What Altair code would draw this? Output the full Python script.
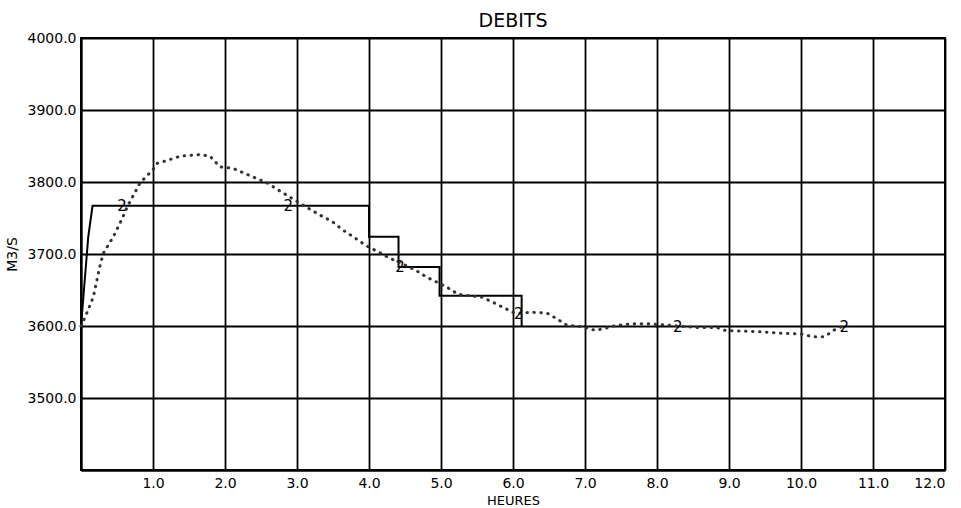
import altair as alt
import pandas as pd

# Solid step series (vertices)
step_x = [0.0, 0.10, 0.16, 4.0, 4.0, 4.41, 4.41, 4.98, 4.98, 6.12, 6.12]
step_y = [3600, 3723, 3767, 3767, 3724, 3724, 3682, 3682, 3642, 3642, 3600]

# Dotted series (curve 2)
dot_x = [0.0, 0.06, 0.17, 0.26, 0.31, 0.45, 0.58, 0.64, 0.82, 1.0, 1.06, 1.2, 1.38,
         1.65, 1.79, 1.93, 2.11, 2.39, 2.58, 2.9, 3.08, 3.15, 3.32, 3.49, 3.64, 3.81,
         3.97, 4.13, 4.29, 4.43, 4.64, 4.80, 4.94, 5.08, 5.24, 5.57, 5.72, 5.86, 6.0,
         6.08, 6.28, 6.47, 6.61, 6.75, 6.97, 7.14, 7.25, 7.44, 7.67, 7.9, 8.29, 8.55,
         8.83, 8.94, 9.15, 9.43, 9.71, 9.99, 10.17, 10.31, 10.40, 10.5, 10.6]
dot_y = [3600, 3613, 3640, 3682, 3701, 3724, 3751, 3765, 3799, 3817, 3826, 3830, 3836,
         3838, 3836, 3821, 3819, 3807, 3799, 3779, 3768, 3764, 3754, 3745, 3733, 3722,
         3711, 3703, 3694, 3688, 3678, 3668, 3661, 3654, 3644, 3640, 3633, 3626, 3619,
         3618, 3619, 3618, 3610, 3601, 3599, 3594, 3596, 3601, 3603, 3603, 3600, 3598,
         3598, 3594, 3593, 3592, 3590, 3589, 3585, 3585, 3590, 3597, 3600]

# Curve markers "2"
mark_x = [0.57, 2.88, 4.43, 6.08, 8.29, 10.6]
mark_y = [3767, 3767, 3682, 3617, 3599, 3599]
mark_txt = ["2", "2", "2", "2", "2", "2"]

x_ticks = list(range(0, 13))
y_ticks = [3400, 3500, 3600, 3700, 3800, 3900, 4000]

FONT = "DejaVu Sans"

step_df = pd.DataFrame({"x": step_x, "y": step_y, "i": range(len(step_x))})
dot_df = pd.DataFrame({"x": dot_x, "y": dot_y, "i": range(len(dot_x))})
mark_df = pd.DataFrame({"x": mark_x, "y": mark_y, "t": mark_txt})

xscale = alt.Scale(domain=[0, 12], nice=False, zero=False)
yscale = alt.Scale(domain=[3400, 4000], nice=False, zero=False)

xaxis = alt.Axis(values=x_ticks, title="HEURES",
                 labelExpr="datum.value == 0 ? '' : format(datum.value, '.1f')",
                 grid=True, ticks=False, labelPadding=6, titleY=30,
                 titleBaseline="middle", titleFontSize=13)
yaxis = alt.Axis(values=y_ticks, title="M3/S",
                 labelExpr="datum.value == 3400 ? '' : format(datum.value, '.1f')",
                 grid=True, ticks=False, labelPadding=5, titleX=-69,
                 titleBaseline="middle", titleFontSize=14)

step = alt.Chart(step_df).mark_line(color="black", strokeWidth=2).encode(
    x=alt.X("x:Q", scale=xscale, axis=xaxis),
    y=alt.Y("y:Q", scale=yscale, axis=yaxis),
    order="i:Q",
)

dots = alt.Chart(dot_df).mark_line(
    color="#333333", strokeWidth=3, strokeDash=[0.5, 6.5], strokeCap="round"
).encode(x=alt.X("x:Q", scale=xscale), y=alt.Y("y:Q", scale=yscale), order="i:Q")

labels = alt.Chart(mark_df).mark_text(
    font=FONT, fontSize=15, fontWeight="normal", color="black"
).encode(x=alt.X("x:Q", scale=xscale), y=alt.Y("y:Q", scale=yscale), text="t:N")

chart = alt.layer(step, dots, labels).properties(
    width=864, height=432,
    title=alt.TitleParams("DEBITS", font=FONT, fontSize=19, fontWeight="normal",
                          anchor="middle", offset=0, color="black"),
    autosize=alt.AutoSizeParams(type="none"),
    padding={"left": 81, "top": 38, "right": 16, "bottom": 38},
).configure(background="white").configure_view(
    stroke="black", strokeWidth=2
).configure_axis(
    gridColor="black", gridWidth=1.8, gridOpacity=1,
    domainColor="black", domainWidth=2,
    labelFont=FONT, labelFontSize=14, labelColor="black",
    titleFont=FONT, titleColor="black", titleFontWeight="normal",
)

chart.save("out.html", embed_options={"renderer": "svg", "actions": False})
